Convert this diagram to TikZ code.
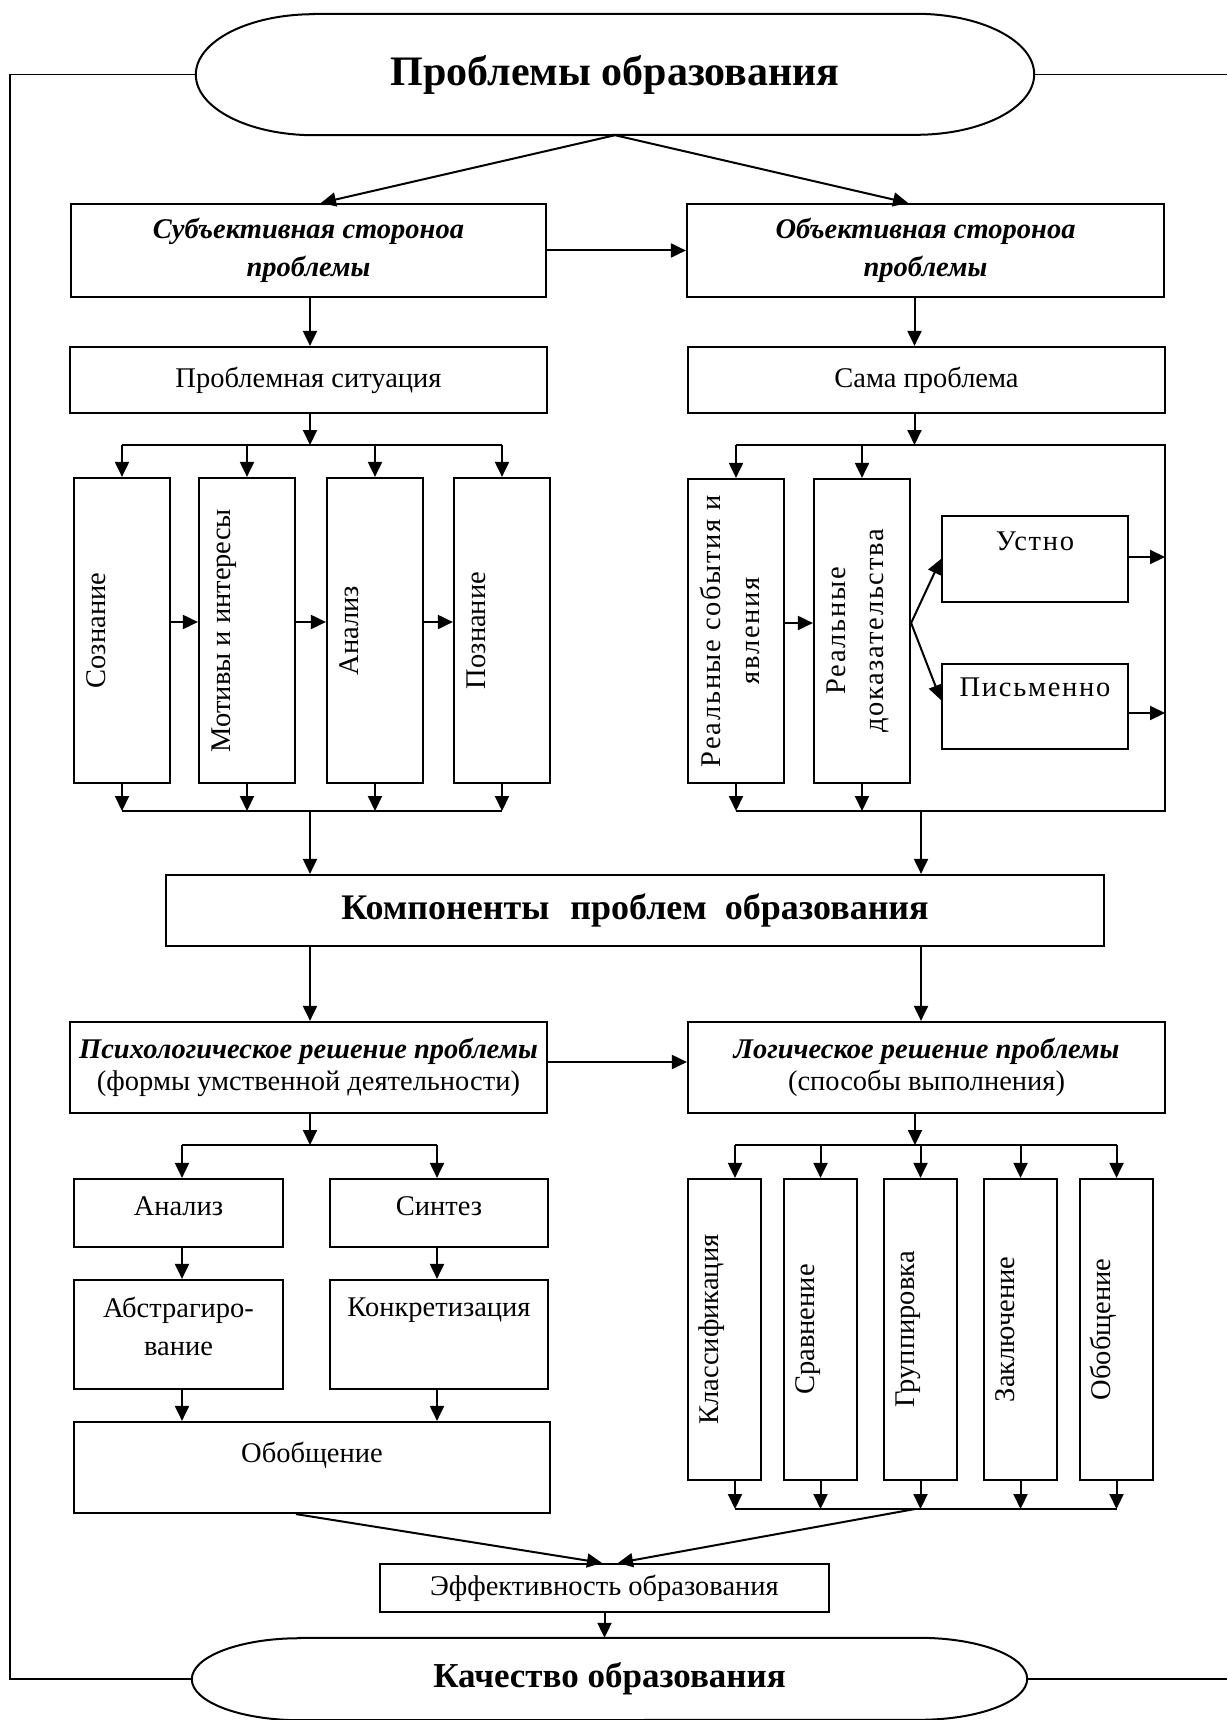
\documentclass[tikz,border=0pt]{standalone}
\usepackage{fontspec}
\setmainfont{Liberation Serif}
\usetikzlibrary{arrows.meta,calc}
\newcommand\myreg{\fontsize{28.5}{38}\selectfont}
\newcommand\mybi{\fontsize{28.5}{38}\selectfont\bfseries\itshape}
\newcommand\mysp{\addfontfeature{LetterSpace=6}}
\newcommand\mybig{\fontsize{36}{40}\selectfont\bfseries}
\newcommand\mytitle{\fontsize{42}{46}\selectfont\bfseries}
\newcommand\mybot{\fontsize{35}{40}\selectfont\bfseries}
\begin{document}
\begin{tikzpicture}[x=1pt,y=1pt,
 bx/.style={draw, line width=2.2pt, inner sep=0pt, align=center, font=\myreg},
 arr/.style={line width=2pt, -{Triangle[length=15pt,width=14pt]}},
 ln/.style={line width=2pt},
 vt/.style={rotate=90, anchor=base, inner sep=0pt, font=\myreg},
 lab/.style={anchor=north, inner sep=0pt, font=\myreg, align=center},
 stad/.style={inner sep=0pt},
]
\fill[white] (0,0) rectangle (1227,-1720);
\useasboundingbox (0,0) rectangle (1227,-1720);

% stadiums
\node[stad, minimum width=838, minimum height=121, font=\mytitle] (T) at (615,-74.5) {\raisebox{6pt}{Проблемы образования}};
\draw[line width=2pt] ($(T.north west)+(118,0)$) -- ($(T.north east)+(-118,0)$)
  arc[start angle=90,end angle=-90,x radius=118,y radius=60.5]
  -- ($(T.south west)+(118,0)$)
  arc[start angle=270,end angle=90,x radius=118,y radius=60.5] -- cycle;
\node[stad, minimum width=835, minimum height=82, font=\mybot] (B) at (609.5,-1679) {\raisebox{-5pt}{Качество образования}};
\draw[line width=2pt] ($(B.north west)+(108,0)$) -- ($(B.north east)+(-108,0)$)
  arc[start angle=90,end angle=-90,x radius=108,y radius=41]
  -- ($(B.south west)+(108,0)$)
  arc[start angle=270,end angle=90,x radius=108,y radius=41] -- cycle;

\coordinate (LT) at (10,-74.5);
\coordinate (LB) at (10,-1679);
\coordinate (RT) at (1227,-74.5);
\coordinate (RB) at (1227,-1679);
\draw[line width=1.6pt] (T.west) -- (LT) -- (LB) -- (B.west);
\draw[line width=1.6pt] (T.east) -- (RT);
\draw[line width=1.6pt] (B.east) -- (RB);

% column coordinates
\coordinate (cl) at (310,0);
\coordinate (cr) at (914.5,0);
\coordinate (ck) at (921,0);

% level 1
\node[bx, minimum width=475, minimum height=93, font=\mybi] (S) at (308.5,-250.5) {Субъективная стороноа\\проблемы};
\node[bx, minimum width=477, minimum height=93, font=\mybi] (O) at (925.5,-250.5) {Объективная стороноа\\проблемы};
\draw[arr] (T.south) -- ([xshift=12.5pt]S.north);
\draw[arr] (T.south) -- ([xshift=-17.5pt]O.north);
\draw[arr] (S.east) -- (O.west);

% level 2
\node[bx, minimum width=477, minimum height=66] (PS) at (308.5,-380) {Проблемная ситуация};
\node[bx, minimum width=477, minimum height=66] (SP) at (926.5,-380) {Сама проблема};
\draw[arr] (S.south -| cl) -- (PS.north -| cl);
\draw[arr] (O.south -| cr) -- (SP.north -| cr);

% left tall boxes
\node[bx, minimum width=96, minimum height=305] (L1) at (122,-630.5) {};
\node[bx, minimum width=96, minimum height=305] (L2) at (247,-630.5) {};
\node[bx, minimum width=96, minimum height=305] (L3) at (375,-630.5) {};
\node[bx, minimum width=96, minimum height=305] (L4) at (502,-630.5) {};
\node[vt] (tL1) at ($(L1.west)+(33,0)$) {Сознание};
\node[vt] (tL2) at ($(L2.west)+(33,0)$) {Мотивы и интересы};
\node[vt] (tL3) at ($(L3.west)+(33,0)$) {Анализ};
\node[vt] (tL4) at ($(L4.west)+(33,0)$) {Познание};

\coordinate (lb1) at (310,-445);
\coordinate (lb2) at (310,-811);
\draw[arr] (PS.south -| cl) -- (lb1);
\draw[ln] (L1.north |- lb1) -- (L4.north |- lb1);
\foreach \n in {L1,L2,L3,L4} {
  \draw[arr] (\n.north |- lb1) -- (\n.north);
  \draw[arr] (\n.south) -- (\n.south |- lb2);
}
\draw[ln] (L1.south |- lb2) -- (L4.south |- lb2);
\draw[arr] ([yshift=8.5pt]L1.east) -- ([yshift=8.5pt]L2.west);
\draw[arr] ([yshift=8.5pt]L2.east) -- ([yshift=8.5pt]L3.west);
\draw[arr] ([yshift=8.5pt]L3.east) -- ([yshift=8.5pt]L4.west);

% right group
\node[bx, minimum width=96, minimum height=304] (R1) at (736,-631) {};
\node[bx, minimum width=96, minimum height=304] (R2) at (862,-631) {};
\node[bx, minimum width=186, minimum height=86] (U) at (1035,-559) {};
\node[bx, minimum width=186, minimum height=85] (P) at (1035,-706.5) {};
\node[vt, font=\myreg\mysp] (tR1a) at ($(R1.west)+(34,0)$) {Реальные события и};
\node[vt, font=\myreg\mysp] (tR1b) at ($(R1.west)+(73,0)$) {явления};
\node[vt, font=\myreg\mysp] (tR2a) at ($(R2.west)+(32.5,0)$) {Реальные};
\node[vt, font=\myreg\mysp] (tR2b) at ($(R2.west)+(71,0)$) {доказательства};
\node[lab, font=\myreg\mysp] (tU) at ($(U.north)+(0,-16.5)$) {Устно};
\node[lab, font=\myreg\mysp] (tP) at ($(P.north)+(0,-14.5)$) {Письменно};

\coordinate (rb1) at (914.5,-445);
\coordinate (rb2) at (921,-811);
\coordinate (rv) at (1165,0);
\draw[arr] (SP.south -| cr) -- (rb1);
\draw[ln] (R1.north |- rb1) -- (rv |- rb1) -- (rv |- rb2) -- (R1.south |- rb2);
\draw[arr] (R1.north |- rb1) -- (R1.north);
\draw[arr] (R2.north |- rb1) -- (R2.north);
\draw[arr] (R1.south) -- (R1.south |- rb2);
\draw[arr] (R2.south) -- (R2.south |- rb2);
\draw[arr] ([yshift=8pt]R1.east) -- ([yshift=8pt]R2.west);
\draw[arr] ([yshift=8pt]R2.east) -- (U.west);
\draw[arr] ([yshift=8pt]R2.east) -- ([yshift=6.5pt]P.west);
\draw[arr] ([yshift=2pt]U.east) -- ([yshift=2pt]U.east -| rv);
\draw[arr] ([yshift=-6.5pt]P.east) -- ([yshift=-6.5pt]P.east -| rv);

% components
\node[bx, minimum width=938, minimum height=71, font=\mybig] (K) at (635,-910.5) {Компоненты\hspace{21pt}проблем\hspace{18pt}образования};
\draw[arr] (lb2) -- (K.north -| cl);
\draw[arr] (rb2) -- (K.north -| ck);

% psychological / logical
\node[bx, minimum width=477, minimum height=91, font=\fontsize{28.5}{32}\selectfont] (PSY) at (308.5,-1067.5) {{\bfseries\itshape Психологическое решение проблемы}\\(формы умственной деятельности)};
\node[bx, minimum width=477, minimum height=91, font=\fontsize{28.5}{32}\selectfont] (LOG) at (926.5,-1067.5) {{\bfseries\itshape Логическое решение проблемы}\\(способы выполнения)};
\draw[arr] (K.south -| cl) -- (PSY.north -| cl);
\draw[arr] (K.south -| ck) -- (LOG.north -| ck);
\draw[arr] ([yshift=5.5pt]PSY.east) -- ([yshift=5.5pt]LOG.west);

% left lower
\coordinate (pb) at (310,-1145);
\coordinate (ca) at (182,0);
\coordinate (cs) at (437,0);
\node[bx, minimum width=209, minimum height=68] (A1) at (178.5,-1213) {};
\node[bx, minimum width=218, minimum height=68] (S1) at (439,-1213) {};
\node[bx, minimum width=209, minimum height=109] (A2) at (178.5,-1334.5) {};
\node[bx, minimum width=218, minimum height=109] (S2) at (439,-1334.5) {};
\node[bx, minimum width=476, minimum height=91] (OB) at (312,-1467.5) {};
\node[lab] (tA1) at ($(A1.north)+(0,-18.5)$) {Анализ};
\node[lab] (tS1) at ($(S1.north)+(0,-18.5)$) {Синтез};
\node[lab] (tA2) at ($(A2.north)+(0,-17.5)$) {Абстрагиро-\\вание};
\node[lab] (tS2) at ($(S2.north)+(0,-18.5)$) {Конкретизация};
\node[lab] (tOB) at ($(OB.north)+(0,-20.5)$) {Обобщение};
\draw[arr] (PSY.south -| cl) -- (pb);
\draw[ln] (ca |- pb) -- (cs |- pb);
\draw[arr] (ca |- pb) -- (A1.north -| ca);
\draw[arr] (cs |- pb) -- (S1.north -| cs);
\draw[arr] (A1.south -| ca) -- (A2.north -| ca);
\draw[arr] (S1.south -| cs) -- (S2.north -| cs);
\draw[arr] (A2.south -| ca) -- (OB.north -| ca);
\draw[arr] (S2.south -| cs) -- (OB.north -| cs);

% right lower
\coordinate (lg) at (915,-1145);
\coordinate (lg2) at (915,-1509);
\coordinate (c1x) at (735,0);
\node[bx, minimum width=73, minimum height=301] (C1) at (724.5,-1329.5) {};
\node[bx, minimum width=73, minimum height=301] (C2) at (820.5,-1329.5) {};
\node[bx, minimum width=73, minimum height=301] (C3) at (920.5,-1329.5) {};
\node[bx, minimum width=73, minimum height=301] (C4) at (1020.5,-1329.5) {};
\node[bx, minimum width=73, minimum height=301] (C5) at (1116.5,-1329.5) {};
\node[vt] (tC1) at ($(C1.west)+(32,0)$) {Классификация};
\node[vt] (tC2) at ($(C2.west)+(32,0)$) {Сравнение};
\node[vt] (tC3) at ($(C3.west)+(32,0)$) {Группировка};
\node[vt] (tC4) at ($(C4.west)+(32,0)$) {Заключение};
\node[vt] (tC5) at ($(C5.west)+(32,0)$) {Обобщение};
\draw[arr] (LOG.south -| lg) -- (lg);
\draw[ln] (c1x |- lg) -- (C5.north |- lg);
\draw[arr] (c1x |- lg) -- (C1.north -| c1x);
\draw[arr] (C1.south -| c1x) -- (c1x |- lg2);
\foreach \n in {C2,C3,C4,C5} {
  \draw[arr] (\n.north |- lg) -- (\n.north);
  \draw[arr] (\n.south) -- (\n.south |- lg2);
}
\draw[ln] (c1x |- lg2) -- (C5.south |- lg2);

% effectiveness
\node[bx, minimum width=449, minimum height=48] (EF) at (604.5,-1588) {Эффективность образования};
\draw[arr] ([xshift=-16pt]OB.south) -- ([xshift=-2.5pt]EF.north);
\draw[arr] (lg2) -- ([xshift=13.5pt]EF.north);
\draw[arr] (EF.south) -- (EF.south |- B.north);
\end{tikzpicture}
\end{document}
